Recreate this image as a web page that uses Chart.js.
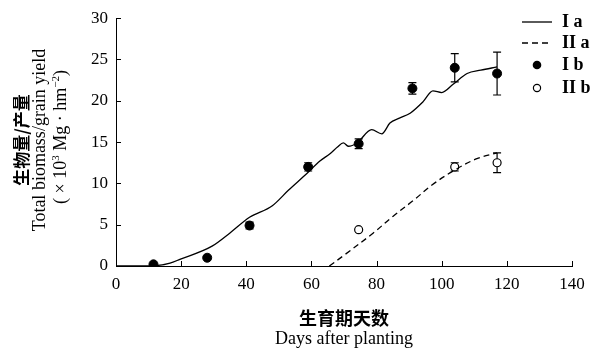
<!DOCTYPE html>
<html>
<head>
<meta charset="utf-8">
<script src="https://cdn.jsdelivr.net/npm/chart.js@4.4.0/dist/chart.umd.min.js"></script>
<style>
  html, body { margin: 0; padding: 0; background: #fff; }
  canvas { display: block; }
</style>
</head>
<body>
<canvas id="growthChart" width="597" height="351"></canvas>
<script>
// simulated curves (Ia = total biomass, IIa = grain yield)
var iaDays = [0, 12, 16.6, 19.6, 29.5, 35, 41, 48, 53, 58.6, 62.6, 65.7, 68, 69.8, 71.3, 74, 78.5, 81.6, 84.1, 87, 90.3, 94.3, 97.3, 100, 103.5, 107.8, 112, 117];
var iaValues = [0, 0.05, 0.35, 0.8, 2.4, 4.0, 5.9, 7.3, 9.2, 11.2, 12.7, 13.6, 14.4, 14.9, 14.5, 14.9, 16.5, 16.0, 17.3, 17.9, 18.5, 19.9, 21.2, 21.0, 22.0, 23.3, 23.7, 24.1];
var iiaDays = [65.5, 70, 79, 85, 91.2, 97, 103.5, 110.8, 117];
var iiaValues = [0, 1.3, 4.0, 6.0, 7.9, 9.8, 11.5, 13.0, 13.7];

// observed points with error
var ibDays = [11.5, 28, 41, 59, 74.5, 91, 104, 117];
var ibValues = [0.2, 1.0, 4.9, 12.0, 14.8, 21.5, 24.0, 23.3];
var ibErr = [0, 0, 0.4, 0.5, 0.6, 0.7, 1.7, 2.6];
var iibDays = [74.5, 104, 117];
var iibValues = [4.4, 12.0, 12.5];
var iibErr = [0, 0.5, 1.2];

var xTicks = [0, 20, 40, 60, 80, 100, 120, 140];
var yTicks = [0, 5, 10, 15, 20, 25, 30];

var serif = '"Liberation Serif", "Times New Roman", serif';
var cjk = '"Noto Sans CJK SC", sans-serif';

function toPoints(xs, ys) {
  return xs.map(function (x, i) { return { x: x, y: ys[i] }; });
}

// error bars, under the points
var errorBars = {
  id: "errorBars",
  beforeDatasetsDraw: function (chart) {
    var ctx = chart.ctx, xs = chart.scales.x, ys = chart.scales.y;
    ctx.save();
    ctx.strokeStyle = "#000";
    ctx.lineWidth = 1.2;
    [[ibDays, ibValues, ibErr], [iibDays, iibValues, iibErr]].forEach(function (set) {
      set[0].forEach(function (d, i) {
        var e = set[2][i];
        if (!e) return;
        var px = xs.getPixelForValue(d);
        var top = ys.getPixelForValue(set[1][i] + e);
        var bot = ys.getPixelForValue(set[1][i] - e);
        ctx.beginPath();
        ctx.moveTo(px, top); ctx.lineTo(px, bot);
        ctx.moveTo(px - 4, top); ctx.lineTo(px + 4, top);
        ctx.moveTo(px - 4, bot); ctx.lineTo(px + 4, bot);
        ctx.stroke();
      });
    });
    ctx.restore();
  }
};

// inward tick marks, axis titles and legend
var decorations = {
  id: "decorations",
  afterDraw: function (chart) {
    var ctx = chart.ctx, xs = chart.scales.x, ys = chart.scales.y, a = chart.chartArea;
    ctx.save();
    ctx.strokeStyle = "#000";
    ctx.lineWidth = 1;
    ctx.beginPath();
    xTicks.forEach(function (t) {
      if (t === 0) return;
      var px = Math.round(xs.getPixelForValue(t)) + 0.5;
      ctx.moveTo(px, a.bottom); ctx.lineTo(px, a.bottom - 5);
    });
    yTicks.forEach(function (t) {
      if (t === 0) return;
      var py = Math.round(ys.getPixelForValue(t)) + 0.5;
      ctx.moveTo(a.left, py); ctx.lineTo(a.left + 5, py);
    });
    ctx.stroke();

    ctx.fillStyle = "#000";
    ctx.textAlign = "center";
    ctx.textBaseline = "middle";

    // x title
    ctx.font = "bold 18px " + cjk;
    ctx.fillText("生育期天数", 344, 318);
    ctx.font = "18px " + serif;
    ctx.fillText("Days after planting", 344, 339);

    // y title
    ctx.save();
    ctx.translate(0, 140);
    ctx.rotate(-Math.PI / 2);
    ctx.font = "bold 17px " + cjk;
    ctx.fillText("生物量/产量", 0, 22);
    ctx.font = "18px " + serif;
    ctx.fillText("Total biomass/grain yield", 0, 40);
    var parts = [["( × 10", 18, 0], ["3", 11, -5], [" Mg · hm", 18, 0], ["−2", 11, -5], [")", 18, 0]];
    var w = 0;
    parts.forEach(function (p) { ctx.font = p[1] + "px " + serif; w += ctx.measureText(p[0]).width; });
    var cx = -w / 2 + 3;
    ctx.textAlign = "left";
    parts.forEach(function (p) {
      ctx.font = p[1] + "px " + serif;
      ctx.fillText(p[0], cx, 61 + p[2]);
      cx += ctx.measureText(p[0]).width;
    });
    ctx.restore();

    // legend
    ctx.lineWidth = 1.3;
    ctx.beginPath(); ctx.moveTo(522, 22); ctx.lineTo(552, 22); ctx.stroke();
    ctx.setLineDash([6, 4]);
    ctx.beginPath(); ctx.moveTo(522, 43); ctx.lineTo(552, 43); ctx.stroke();
    ctx.setLineDash([]);
    ctx.beginPath(); ctx.arc(537, 65, 4.3, 0, Math.PI * 2); ctx.fill();
    ctx.lineWidth = 1.2;
    ctx.beginPath(); ctx.arc(537, 88, 3.6, 0, Math.PI * 2);
    ctx.fillStyle = "#fff"; ctx.fill(); ctx.stroke();
    ctx.fillStyle = "#000";
    ctx.textAlign = "left";
    ctx.font = "bold 18px " + serif;
    ctx.fillText("I a", 562, 22);
    ctx.fillText("II a", 562, 43);
    ctx.fillText("I b", 562, 65);
    ctx.fillText("II b", 562, 88);
    ctx.restore();
  }
};

var ctx = document.getElementById("growthChart").getContext("2d");
var growthChart = new Chart(ctx, {
  type: "scatter",
  data: {
    datasets: [
      {
        label: "Ia",
        data: toPoints(iaDays, iaValues),
        showLine: true,
        borderColor: "#000",
        borderWidth: 1.3,
        pointRadius: 0,
        tension: 0.35,
        cubicInterpolationMode: "monotone",
      },
      {
        label: "IIa",
        data: toPoints(iiaDays, iiaValues),
        showLine: true,
        borderColor: "#000",
        borderWidth: 1.3,
        borderDash: [6, 4],
        pointRadius: 0,
        tension: 0.35,
      },
      {
        label: "Ib",
        data: toPoints(ibDays, ibValues),
        backgroundColor: "#000",
        borderColor: "#000",
        pointRadius: 4.5,
      },
      {
        label: "IIb",
        data: toPoints(iibDays, iibValues),
        backgroundColor: "#fff",
        borderColor: "#000",
        borderWidth: 1.2,
        pointRadius: 4,
      },
    ],
  },
  options: {
    responsive: false,
    animation: false,
    events: [],
    layout: { padding: { left: 0, right: 25, top: 16, bottom: 0 } },
    plugins: { legend: { display: false }, tooltip: { enabled: false } },
    scales: {
      x: {
        type: "linear",
        min: 0,
        max: 140,
        afterBuildTicks: function (s) { s.ticks = xTicks.map(function (v) { return { value: v }; }); },
        afterFit: function (s) { s.height = 85; },
        grid: { display: false, drawTicks: false },
        border: { color: "#000", width: 1 },
        ticks: { color: "#000", padding: 8, font: { family: serif, size: 17 } },
      },
      y: {
        min: 0,
        max: 30,
        afterBuildTicks: function (s) { s.ticks = yTicks.map(function (v) { return { value: v }; }); },
        afterFit: function (s) { s.width = 116; },
        grid: { display: false, drawTicks: false },
        border: { color: "#000", width: 1 },
        ticks: { color: "#000", padding: 8, font: { family: serif, size: 17 } },
      },
    },
  },
  plugins: [errorBars, decorations],
});
</script>
</body>
</html>
